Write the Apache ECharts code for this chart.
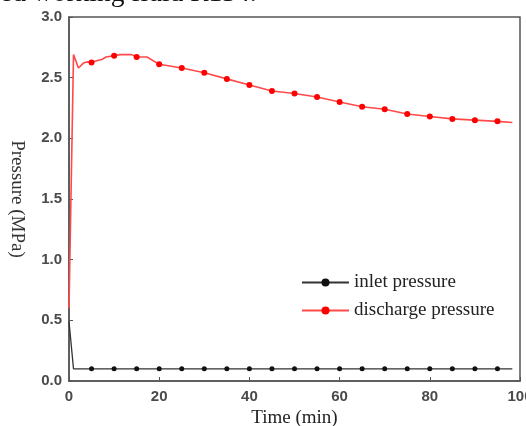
<!DOCTYPE html>
<html>
<head>
<meta charset="utf-8">
<script src="https://cdn.jsdelivr.net/npm/echarts@6/dist/echarts.min.js"></script>
<style>
  html, body { margin: 0; padding: 0; background: #fff; }
  #chart { width: 526px; height: 426px; }
</style>
</head>
<body>
<div id="chart"></div>
<script>
// Discharge pressure trace (time in min, pressure in MPa)
var dischargeTime = [0, 1, 2.1, 3.2, 4, 5, 6.1, 7.3, 8.2, 10, 11.3, 13.9, 15, 17.3, 20, 21.7, 25, 30, 35, 40, 45, 50, 55, 60, 65, 70, 75, 80, 85, 90, 95, 98.3];
var dischargePressure = [0.6, 2.69, 2.58, 2.62, 2.63, 2.625, 2.64, 2.65, 2.67, 2.68, 2.69, 2.69, 2.67, 2.67, 2.61, 2.60, 2.58, 2.54, 2.49, 2.44, 2.39, 2.37, 2.34, 2.30, 2.26, 2.24, 2.20, 2.18, 2.16, 2.15, 2.14, 2.13];

// Inlet pressure trace
var inletTime = [0, 1, 5, 10, 15, 20, 25, 30, 35, 40, 45, 50, 55, 60, 65, 70, 75, 80, 85, 90, 95, 98.3];
var inletPressure = [0.49, 0.1, 0.1, 0.1, 0.1, 0.1, 0.1, 0.1, 0.1, 0.1, 0.1, 0.1, 0.1, 0.1, 0.1, 0.1, 0.1, 0.1, 0.1, 0.1, 0.1, 0.1];

// Times at which a sample marker is drawn
var markerTimes = [5, 10, 15, 20, 25, 30, 35, 40, 45, 50, 55, 60, 65, 70, 75, 80, 85, 90, 95];

var seriesNames = ['inlet pressure', 'discharge pressure'];
var xTicks = [0, 20, 40, 60, 80, 100];
var yTicks = [0.0, 0.5, 1.0, 1.5, 2.0, 2.5, 3.0];

function buildPoints(times, values) {
  return times.map(function (t, i) {
    var marked = markerTimes.indexOf(t) >= 0;
    return { value: [t, values[i]], symbol: marked ? 'circle' : 'none' };
  });
}

var serif = '"Liberation Serif", "Times New Roman", serif';
var sans = '"Liberation Sans", Arial, sans-serif';

var chart = echarts.init(document.getElementById('chart'), null, { renderer: 'canvas' });

chart.setOption({
  animation: false,
  backgroundColor: '#fff',
  graphic: [{
    type: 'text',
    left: 0,
    top: -20,
    style: {
      text: 'ed working fluid R134.',
      font: '27.5px ' + serif,
      fill: '#111'
    }
  }],
  grid: {
    left: 69, right: 6, top: 17, bottom: 45,
    outerBoundsMode: 'none',
    containLabel: false,
    show: true, borderColor: '#555', borderWidth: 1.5
  },
  legend: {
    orient: 'vertical',
    left: 296,
    top: 268,
    itemWidth: 47,
    itemHeight: 10,
    itemGap: 9,
    data: seriesNames,
    textStyle: { fontFamily: serif, fontSize: 19, color: '#222' }
  },
  xAxis: {
    type: 'value',
    min: 0, max: 100, interval: 20,
    name: 'Time (min)',
    nameLocation: 'middle',
    nameGap: 28,
    nameTextStyle: { fontFamily: serif, fontSize: 19, color: '#222' },
    axisLine: { show: true, lineStyle: { color: '#555', width: 1.5 } },
    axisTick: { show: true, inside: true, length: 4, lineStyle: { color: '#555' } },
    axisLabel: {
      margin: 8, fontFamily: sans, fontSize: 15, fontWeight: 'bold', color: '#4a4a4a',
      formatter: function (v) { return xTicks.indexOf(v) >= 0 ? String(v) : ''; }
    },
    splitLine: { show: false }
  },
  yAxis: {
    type: 'value',
    min: 0, max: 3, interval: 0.5,
    name: 'Pressure (MPa)',
    nameLocation: 'middle',
    nameRotate: -90,
    nameGap: 43,
    nameTextStyle: { fontFamily: serif, fontSize: 19, color: '#333' },
    axisLine: { show: true, lineStyle: { color: '#555', width: 1.5 } },
    axisTick: { show: true, inside: true, length: 4, lineStyle: { color: '#555' } },
    axisLabel: {
      margin: 7, fontFamily: sans, fontSize: 15, fontWeight: 'bold', color: '#4a4a4a',
      formatter: function (v) {
        for (var i = 0; i < yTicks.length; i++) {
          if (Math.abs(yTicks[i] - v) < 1e-9) return yTicks[i].toFixed(1);
        }
        return '';
      }
    },
    splitLine: { show: false }
  },
  series: [
    {
      name: seriesNames[0],
      type: 'line',
      data: buildPoints(inletTime, inletPressure),
      symbol: 'circle',
      symbolSize: 5,
      itemStyle: { color: '#111' },
      lineStyle: { color: '#333', width: 1.3 },
      z: 2
    },
    {
      name: seriesNames[1],
      type: 'line',
      data: buildPoints(dischargeTime, dischargePressure),
      symbol: 'circle',
      symbolSize: 6,
      itemStyle: { color: '#ff0000' },
      lineStyle: { color: '#ff4a4a', width: 1.6 },
      z: 3
    }
  ]
});
</script>
</body>
</html>
